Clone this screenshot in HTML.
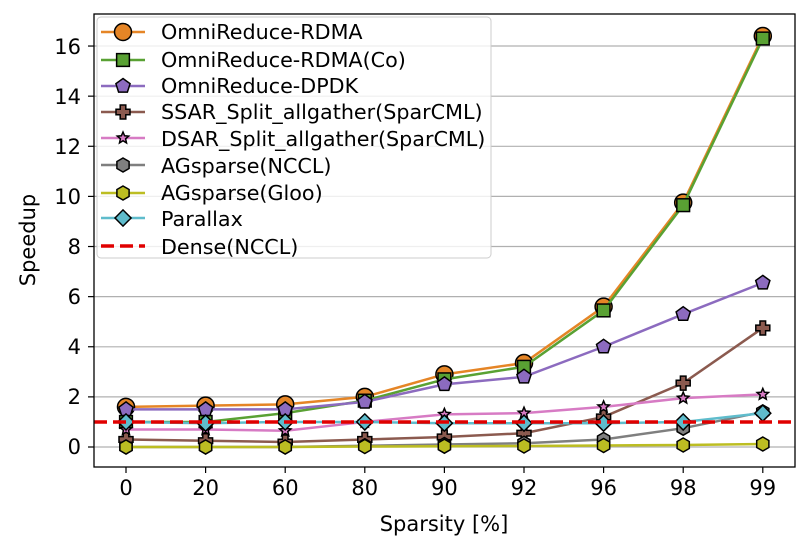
<!DOCTYPE html>
<html><head><meta charset="utf-8"><style>
body{margin:0;background:#fff}
svg{display:block;font-family:"DejaVu Sans","Liberation Sans",sans-serif}
</style></head><body>
<svg id="s" width="806" height="554" viewBox="0 0 806 554">
<g stroke="#b0b0b0" stroke-width="1.2">
<line x1="94" x2="795" y1="447" y2="447"/><line x1="94" x2="795" y1="396.9" y2="396.9"/>
<line x1="94" x2="795" y1="346.8" y2="346.8"/><line x1="94" x2="795" y1="296.6" y2="296.6"/>
<line x1="94" x2="795" y1="246.5" y2="246.5"/><line x1="94" x2="795" y1="196.4" y2="196.4"/>
<line x1="94" x2="795" y1="146.3" y2="146.3"/><line x1="94" x2="795" y1="96.2" y2="96.2"/>
<line x1="94" x2="795" y1="46" y2="46"/>
</g>
<g id="series"></g>
<rect x="94" y="14" width="701" height="453" fill="none" stroke="#000" stroke-width="1.3"/>
<g stroke="#000" stroke-width="1.2" id="ticks"></g>
<g font-size="21" text-anchor="end" fill="#000">
<text x="81" y="454">0</text><text x="81" y="404">2</text><text x="81" y="354">4</text>
<text x="81" y="304">6</text><text x="81" y="254">8</text><text x="81" y="204">10</text>
<text x="81" y="154">12</text><text x="81" y="104">14</text><text x="81" y="54">16</text>
</g>
<g font-size="21" text-anchor="middle" fill="#000">
<text x="126" y="495">0</text><text x="205.6" y="495">20</text><text x="285.2" y="495">60</text>
<text x="364.8" y="495">80</text><text x="444.4" y="495">90</text><text x="524" y="495">92</text>
<text x="603.6" y="495">96</text><text x="683.2" y="495">98</text><text x="762.8" y="495">99</text>
<text x="444" y="531">Sparsity [%]</text>
<text transform="translate(35,240) rotate(-90)">Speedup</text>
</g>
<rect x="97" y="17" width="394" height="241" rx="4" fill="#fff" fill-opacity="0.8" stroke="#ccc"/>
<g id="leg"></g>
<g font-size="20.7" fill="#000">
<text x="161" y="39">OmniReduce-RDMA</text>
<text x="161" y="67">OmniReduce-RDMA(Co)</text>
<text x="161" y="93">OmniReduce-DPDK</text>
<text x="161" y="119">SSAR_Split_allgather(SparCML)</text>
<text x="161" y="146">DSAR_Split_allgather(SparCML)</text>
<text x="161" y="173">AGsparse(NCCL)</text>
<text x="161" y="200">AGsparse(Gloo)</text>
<text x="161" y="226">Parallax</text>
<text x="161" y="254">Dense(NCCL)</text>
</g>
</svg>
<script>
const NS="http://www.w3.org/2000/svg";
const X=i=>126+i*79.6, Y=v=>447-v*25.06;
function el(p,t,a){const e=document.createElementNS(NS,t);for(const k in a)e.setAttribute(k,a[k]);p.appendChild(e);return e;}
const tk=document.getElementById('ticks');
for(let i=0;i<9;i++)el(tk,'line',{x1:X(i),x2:X(i),y1:467,y2:473});
for(let v=0;v<=16;v+=2)el(tk,'line',{x1:88,x2:94,y1:Y(v),y2:Y(v)});
function marker(p,m,x,y,c,s){
 const a={fill:c,stroke:'#000','stroke-width':1.5};
 if(m=='o')el(p,'circle',Object.assign({cx:x,cy:y,r:s},a));
 if(m=='s')el(p,'rect',Object.assign({x:x-s*0.85,y:y-s*0.85,width:s*1.7,height:s*1.7},a));
 const poly=(n,r,rot,r2)=>{let pts=[];for(let k=0;k<n*(r2?2:1);k++){const ang=rot+k*Math.PI*2/(n*(r2?2:1));const rr=r2&&k%2?r2:r;pts.push((x+rr*Math.cos(ang)).toFixed(1)+','+(y+rr*Math.sin(ang)).toFixed(1));}el(p,'polygon',Object.assign({points:pts.join(' ')},a));};
 if(m=='p')poly(5,s,-Math.PI/2);
 if(m=='h')poly(6,s,-Math.PI/2);
 if(m=='*')poly(5,s,-Math.PI/2,s*0.45);
 if(m=='D')poly(4,s*1.15,0);
 if(m=='P'){const w=s*0.4;el(p,'path',Object.assign({d:`M${x-w},${y-s}h${2*w}v${s-w}h${s-w}v${2*w}h${-(s-w)}v${s-w}h${-2*w}v${-(s-w)}h${-(s-w)}v${-2*w}h${s-w}z`},a));}
}
const S=[
['#e58526','o',8.5,[1.6,1.65,1.7,2.0,2.9,3.35,5.6,9.75,16.4]],
['#59a133','s',7.5,[1.0,1.0,1.35,1.85,2.7,3.2,5.45,9.65,16.3]],
['#8c6bbf','p',7.5,[1.5,1.5,1.5,1.8,2.5,2.8,4.0,5.3,6.55]],
['#8b5a4f','P',7,[0.3,0.25,0.2,0.3,0.4,0.55,1.2,2.55,4.75]],
['#d77bc4','*',6,[0.7,0.7,0.65,1.0,1.3,1.35,1.6,1.95,2.1]],
['#7f7f7f','h',7,[0,0,0,0.05,0.1,0.15,0.3,0.75,1.4]],
['#bcbd22','h',7,[0,0,0,0.02,0.03,0.04,0.06,0.08,0.12]],
['#5fbccc','D',7,[1.0,0.95,1.0,1.0,0.95,0.95,0.95,1.0,1.35]]];
const g=document.getElementById('series'),lg=document.getElementById('leg');
const ly=[32,60,86,112,138,165,193,218];
S.forEach((s,j)=>{
 el(g,'polyline',{points:s[3].map((v,i)=>X(i)+','+Y(v)).join(' '),fill:'none',stroke:s[0],'stroke-width':2.5});
 s[3].forEach((v,i)=>marker(g,s[1],X(i),Y(v),s[0],s[2]));
 el(lg,'line',{x1:101,x2:145,y1:ly[j],y2:ly[j],stroke:s[0],'stroke-width':2.5});
 marker(lg,s[1],123,ly[j],s[0],s[2]);
});
el(g,'line',{x1:94,x2:795,y1:Y(1),y2:Y(1),stroke:'#e00000','stroke-width':3.5,'stroke-dasharray':'13 6'});
el(lg,'line',{x1:101,x2:145,y1:246,y2:246,stroke:'#e00000','stroke-width':3.5,'stroke-dasharray':'13 6'});
</script>
</body></html>
